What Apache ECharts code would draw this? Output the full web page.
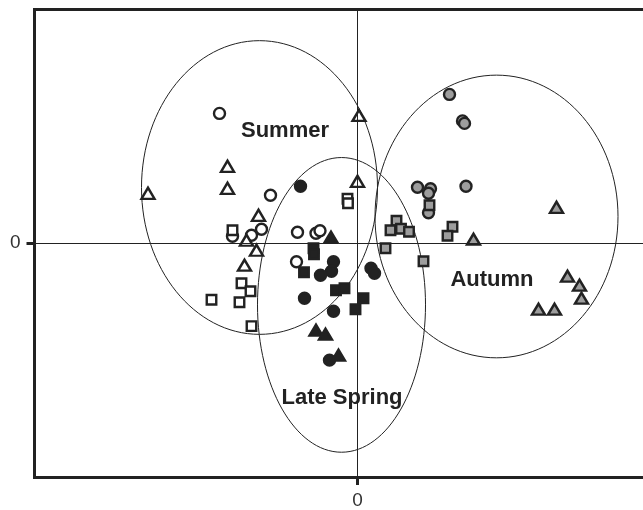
<!DOCTYPE html>
<html>
<head>
<meta charset="utf-8">
<script src="https://cdn.jsdelivr.net/npm/echarts@6/dist/echarts.min.js"></script>
<style>
  html, body { margin: 0; padding: 0; background: #fff; }
  #chart { width: 643px; height: 510px; }
</style>
</head>
<body>
<div id="chart"></div>
<script>
// Ordination scores (axis units are arbitrary)
const openCircles = [[-13.8, 13.0], [-8.7, 4.8], [-12.5, 0.7], [-10.6, 0.8], [-9.6, 1.4], [-6.0, 1.1], [-4.15, 1.0], [-3.75, 1.25], [-6.1, -1.85]];
const openSquares = [[-12.5, 1.3], [-11.6, -4.0], [-10.7, -4.8], [-11.8, -5.9], [-14.6, -5.65], [-10.6, -8.3], [-1.0, 4.45], [-0.95, 4.0]];
const openTriangles = [[-13.0, 7.7], [-13.0, 5.5], [-20.95, 5.0], [-9.9, 2.8], [-11.1, 0.3], [-10.1, -0.7], [-11.3, -2.2], [0.15, 12.8], [0.0, 6.2]];

const blackCircles = [[-5.7, 5.7], [-2.4, -1.85], [-2.6, -2.8], [-3.7, -3.2], [1.35, -2.5], [1.7, -3.0], [-5.3, -5.5], [-2.4, -6.8], [-2.8, -11.7]];
const blackSquares = [[-4.4, -0.5], [-4.35, -1.1], [-5.35, -2.9], [-2.15, -4.7], [-1.3, -4.5], [0.6, -5.5], [-0.2, -6.6]];
const blackTriangles = [[-2.65, 0.6], [-4.15, -8.7], [-3.2, -9.1], [-1.9, -11.2]];

const grayCircles = [[9.2, 14.9], [10.5, 12.25], [10.7, 12.0], [6.0, 5.6], [7.3, 5.45], [7.1, 5.0], [10.85, 5.7], [7.1, 3.05]];
const graySquares = [[7.2, 3.8], [3.9, 2.25], [3.3, 1.3], [4.35, 1.45], [5.15, 1.15], [9.5, 1.65], [9.0, 0.75], [2.8, -0.5], [6.6, -1.8]];
const grayTriangles = [[11.6, 0.4], [19.9, 3.6], [21.0, -3.3], [22.2, -4.2], [22.4, -5.5], [18.1, -6.6], [19.7, -6.6]];

// season ellipses: centre x, centre y, radius x, radius y
const seasonEllipses = [[-9.8, 5.58, 11.8, 14.7], [-1.6, -6.17, 8.4, 14.75], [13.9, 2.68, 12.15, 14.15]];
const seasonNames = ['Summer', 'Late Spring', 'Autumn'];
const seasonLabelPos = [[-7.25, 11.2], [-1.55, -15.5], [13.45, -3.67]];

const tickValues = [0];

const INK = '#222';
const GRAY = '#9d9d9d';

const chart = echarts.init(document.getElementById('chart'));

function pointSeries(data, symbol, fill) {
  const size = symbol === 'triangle' ? [13, 11] : (symbol === 'rect' ? 9.5 : 11);
  return {
    type: 'scatter',
    data: data,
    symbol: symbol,
    symbolSize: size,
    z: 3,
    itemStyle: { color: fill, borderColor: INK, borderWidth: 2.4, opacity: 1 },
    emphasis: { disabled: true }
  };
}

// thick frame line (left, bottom, top); the right side is cut off in the original
const frameLine = { show: true, onZero: false, lineStyle: { color: INK, width: 3, cap: 'square' } };

const axisCommon = {
  axisLine: frameLine,
  splitLine: { show: false },
  axisTick: { show: true, customValues: tickValues, length: 8, lineStyle: { color: INK, width: 3 } },
  axisLabel: { customValues: tickValues, margin: 14, fontSize: 19, color: '#333', fontFamily: 'Liberation Sans' }
};

const X_MIN = -32.3, X_MAX = 28.55;

const option = {
  animation: false,
  grid: { left: 34.5, top: 9.5, right: 0, bottom: 33 },
  xAxis: [
    Object.assign({ type: 'value', min: X_MIN, max: X_MAX, position: 'bottom' }, axisCommon),
    {
      type: 'value', min: X_MIN, max: X_MAX, position: 'top',
      axisLine: frameLine,
      axisTick: { show: false },
      axisLabel: { show: false },
      splitLine: { show: false }
    }
  ],
  yAxis: Object.assign({ type: 'value', min: -23.4, max: 23.4, position: 'left' }, axisCommon),
  series: [
    {
      // zero lines and season ellipses
      type: 'custom',
      data: seasonEllipses,
      z: 1,
      silent: true,
      renderItem: function (params, api) {
        const c = api.coord([api.value(0), api.value(1)]);
        const s = api.size([api.value(2), api.value(3)]);
        return {
          type: 'ellipse',
          shape: { cx: c[0], cy: c[1], rx: s[0], ry: s[1] },
          style: { fill: 'none', stroke: INK, lineWidth: 1 }
        };
      },
      markLine: {
        silent: true,
        symbol: 'none',
        label: { show: false },
        lineStyle: { color: INK, width: 1, type: 'solid' },
        data: [{ xAxis: 0 }, { yAxis: 0 }]
      }
    },
    pointSeries(openCircles, 'circle', '#fff'),
    pointSeries(openSquares, 'rect', '#fff'),
    pointSeries(openTriangles, 'triangle', '#fff'),
    pointSeries(blackCircles, 'circle', INK),
    pointSeries(blackSquares, 'rect', INK),
    pointSeries(blackTriangles, 'triangle', INK),
    pointSeries(grayCircles, 'circle', GRAY),
    pointSeries(graySquares, 'rect', GRAY),
    pointSeries(grayTriangles, 'triangle', GRAY),
    {
      type: 'scatter',
      data: seasonLabelPos.map((p, i) => ({ value: p, name: seasonNames[i] })),
      symbolSize: 1,
      z: 4,
      itemStyle: { color: 'rgba(0,0,0,0)', opacity: 1 },
      label: {
        show: true, position: 'inside', formatter: '{b}',
        fontFamily: 'Liberation Sans', fontWeight: 'bold', fontSize: 22,
        color: INK, textBorderWidth: 0
      }
    }
  ]
};

chart.setOption(option);
</script>
</body>
</html>
